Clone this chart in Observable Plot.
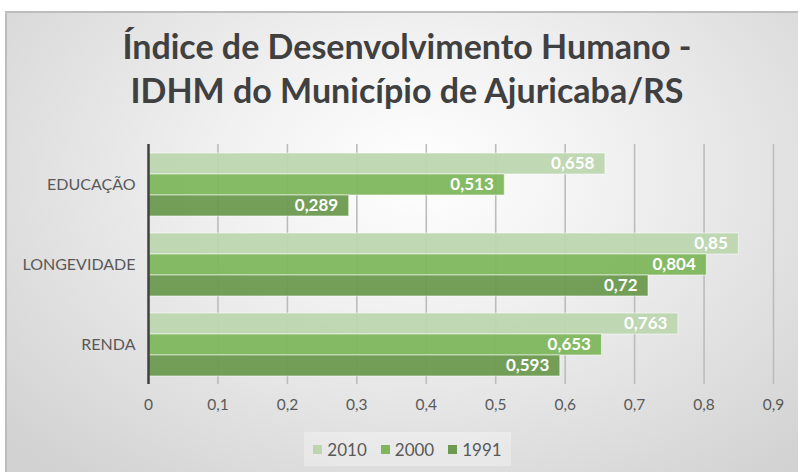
<!DOCTYPE html>
<html>
<head>
<meta charset="utf-8">
<script src="https://cdn.jsdelivr.net/npm/d3@7"></script>
<script src="https://cdn.jsdelivr.net/npm/@observablehq/plot@0.6"></script>
<style>
  html, body { margin: 0; padding: 0; background: #ffffff; width: 798px; height: 472px; overflow: hidden; }
  #frame {
    position: absolute; left: 5px; top: 11px; width: 793px; height: 461px;
    box-sizing: border-box;
    border-top: 2px solid #bdbdbd; border-left: 2px solid #bdbdbd;
    background: radial-gradient(ellipse 70% 85% at 52% 35%, #ffffff 0%, #f1f1f1 35%, #d2d2d2 100%);
  }
  #title {
    position: absolute; left: 0; top: 24px; width: 814px; text-align: center;
    font-family: Lato, sans-serif; font-weight: bold; font-size: 34px; line-height: 44px;
    color: #404040;
  }
  #plot { position: absolute; left: 0; top: 130px; }
  #legend {
    position: absolute; left: 304px; top: 432px; width: 207px; height: 34px;
    background: rgba(255,255,255,0.3);
    display: flex; align-items: center; justify-content: center; gap: 14px;
    font-family: Lato, sans-serif; font-size: 17px; color: #595959;
  }
  #legend .item { display: flex; align-items: center; gap: 5px; }
  #legend .sw { width: 9px; height: 9px; display: inline-block; }
</style>
</head>
<body>
<div id="frame"></div>
<div id="title">Índice de Desenvolvimento Humano -<br>IDHM do Município de Ajuricaba/RS</div>
<div id="plot"></div>
<div id="legend"></div>
<script>
const categories = ["EDUCAÇÃO", "LONGEVIDADE", "RENDA"];
const series = ["2010", "2000", "1991"];
const values2010 = [0.658, 0.85, 0.763];
const values2000 = [0.513, 0.804, 0.653];
const values1991 = [0.289, 0.72, 0.593];
const xTicks = [0, 0.1, 0.2, 0.3, 0.4, 0.5, 0.6, 0.7, 0.8, 0.9];
const seriesColors = ["#bdd6b0", "#80b75e", "#6b9a50"];

const seriesValues = [values2010, values2000, values1991];
const rows = [];
categories.forEach((c, i) => {
  series.forEach((s, j) => rows.push({category: c, series: s, value: seriesValues[j][i]}));
});

const fmt = v => String(v).replace(".", ",");

const chart = Plot.plot({
  width: 798,
  height: 300,
  marginLeft: 148,
  marginRight: 25,
  marginTop: 13,
  marginBottom: 45,
  style: {background: "transparent", fontFamily: "Lato, sans-serif", overflow: "visible"},
  x: {domain: [0, 0.9]},
  fy: {domain: categories, padding: 0, label: null},
  y: {domain: series, paddingInner: 0, paddingOuter: 0.36, axis: null},
  color: {domain: series, range: seriesColors},
  marks: [
    Plot.ruleX(xTicks.slice(1), {stroke: "#bcbcbc", strokeWidth: 1.6}),
    Plot.barX(rows, {x: "value", y: "series", fy: "category", fill: "series", fillOpacity: 0.95, stroke: "#ffffff", strokeOpacity: 0.55, strokeWidth: 1}),
    Plot.ruleX([0], {stroke: "#404040", strokeWidth: 2.5}),
    Plot.text(rows, {x: "value", y: "series", fy: "category", text: d => fmt(d.value), textAnchor: "end", dx: -11, fill: "white", fontWeight: "bold", fontSize: 17}),
    Plot.axisX({ticks: xTicks, tickFormat: fmt, tickSize: 0, tickPadding: 14, fontSize: 15.5, color: "#595959", label: null}),
    Plot.axisFy({anchor: "left", tickSize: 0, tickPadding: 13, fontSize: 16, color: "#595959", label: null})
  ]
});
document.getElementById("plot").appendChild(chart);

const legend = document.getElementById("legend");
series.forEach((s, j) => {
  const item = document.createElement("span");
  item.className = "item";
  const sw = document.createElement("span");
  sw.className = "sw";
  sw.style.background = seriesColors[j];
  const t = document.createElement("span");
  t.textContent = s;
  item.appendChild(sw);
  item.appendChild(t);
  legend.appendChild(item);
});
</script>
</body>
</html>
